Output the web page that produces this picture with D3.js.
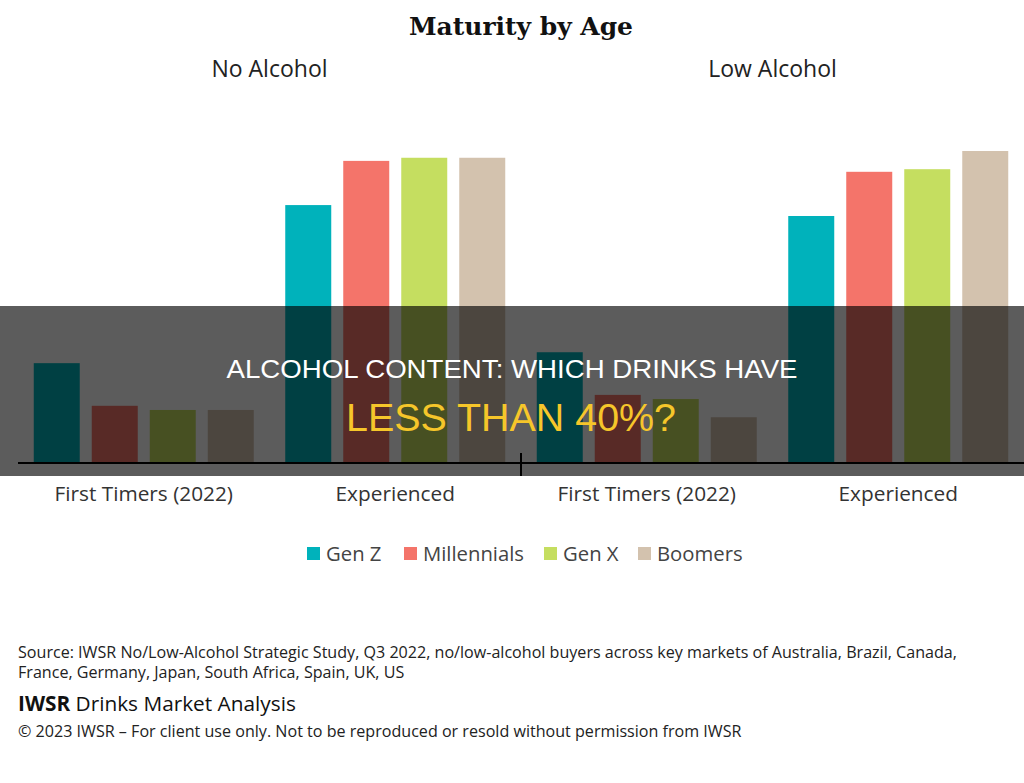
<!DOCTYPE html>
<html>
<head>
<meta charset="utf-8">
<script src="https://cdn.jsdelivr.net/npm/d3@7"></script>
<style>
  html, body { margin: 0; padding: 0; background: #fff; }
  svg { display: block; }
</style>
</head>
<body>
<div class="js-chart"></div>
<script>
let w = 1024;
let h = 783;

// data (no y axis in the source, units are relative)
let panels = ['No Alcohol', 'Low Alcohol'];
let stages = ['First Timers (2022)', 'Experienced'];
let generations = ['Gen Z', 'Millennials', 'Gen X', 'Boomers'];
let noAlcoholValues = [[19.2, 11.0, 10.2, 10.2], [49.6, 58.1, 58.7, 58.7]];
let lowAlcoholValues = [[21.3, 13.1, 12.3, 8.8], [47.5, 56.0, 56.5, 60.0]];
let panelValues = [noAlcoholValues, lowAlcoholValues];

let genColors = ['#00b2bb', '#f4746a', '#c5de60', '#d3c2ae'];
let sansFont = "'Open Sans', 'Noto Sans', sans-serif";

let svg = d3.select('.js-chart').append('svg')
  .attr('width', w)
  .attr('height', h);

let xPanel = d3.scaleBand().domain(panels).range([18, 1024]);
let xStage = d3.scaleBand().domain(stages).range([0, xPanel.bandwidth()]);
let xGen = d3.scaleBand().domain(generations)
  .range([15.75, xStage.bandwidth() - 15.75])
  .paddingInner(0.207);
let y = d3.scaleLinear().domain([0, 60]).range([463, 151]);
let color = d3.scaleOrdinal().domain(generations).range(genColors);

// Title
svg.append('text')
  .attr('x', 521)
  .attr('y', 35)
  .attr('text-anchor', 'middle')
  .style('font-family', "'DejaVu Serif', serif")
  .style('font-weight', 'bold')
  .style('font-size', '25px')
  .attr('textLength', 224)
  .attr('lengthAdjust', 'spacingAndGlyphs')
  .style('fill', '#111')
  .text('Maturity by Age');

panels.forEach((panel, p) => {
  let g = svg.append('g').attr('transform', `translate(${xPanel(panel)},0)`);

  g.append('text')
    .attr('x', xPanel.bandwidth() / 2)
    .attr('y', 77)
    .attr('text-anchor', 'middle')
    .style('font-family', sansFont)
    .style('font-size', '23px')
    .style('fill', '#222')
    .text(panel);

  stages.forEach((stage, s) => {
    let sg = g.append('g').attr('transform', `translate(${xStage(stage)},0)`);

    sg.selectAll('rect')
      .data(panelValues[p][s])
      .enter()
      .append('rect')
      .attr('x', (d, i) => xGen(generations[i]))
      .attr('y', d => y(d))
      .attr('width', xGen.bandwidth())
      .attr('height', d => y(0) - y(d))
      .style('fill', (d, i) => color(generations[i]));
  });

  // category labels under each panel
  let axis = d3.axisBottom(xStage).tickSize(0).tickPadding(0);
  let ag = g.append('g')
    .attr('transform', `translate(0,${y(0)})`)
    .call(axis);
  ag.select('.domain').remove();
  ag.selectAll('text')
    .attr('dy', 0)
    .attr('y', 38)
    .style('font-family', sansFont)
    .style('font-size', '20.8px')
    .style('fill', '#333');
});

// baseline and panel divider tick
svg.append('line')
  .attr('x1', 18)
  .attr('x2', 1024)
  .attr('y1', y(0))
  .attr('y2', y(0))
  .style('stroke', '#000')
  .style('stroke-width', 2);

svg.append('line')
  .attr('x1', xPanel('Low Alcohol'))
  .attr('x2', xPanel('Low Alcohol'))
  .attr('y1', y(0) - 10)
  .attr('y2', y(0) + 13)
  .style('stroke', '#000')
  .style('stroke-width', 2);

// Legend
let legendX = [307, 404, 544, 638];
let legend = svg.append('g');
generations.forEach((gen, i) => {
  legend.append('rect')
    .attr('x', legendX[i])
    .attr('y', 547)
    .attr('width', 13)
    .attr('height', 13)
    .style('fill', color(gen));
  legend.append('text')
    .attr('x', legendX[i] + 19)
    .attr('y', 561)
    .style('font-family', sansFont)
    .style('font-size', '20.3px')
    .style('fill', '#444')
    .text(gen);
});

// Source + footer
let source = [
  'Source: IWSR No/Low-Alcohol Strategic Study, Q3 2022, no/low-alcohol buyers across key markets of Australia, Brazil, Canada,',
  'France, Germany, Japan, South Africa, Spain, UK, US'
];
source.forEach((line, i) => {
  svg.append('text')
    .attr('x', 18)
    .attr('y', 658 + i * 20)
    .style('font-family', sansFont)
    .style('font-size', '16.1px')
    .style('fill', '#222')
    .text(line);
});

let brand = svg.append('text')
  .attr('x', 18)
  .attr('y', 711)
  .style('font-family', sansFont)
  .style('font-size', '20.8px')
  .style('fill', '#111');
brand.append('tspan').style('font-weight', 'bold').text('IWSR');
brand.append('tspan').text(' Drinks Market Analysis');

svg.append('text')
  .attr('x', 18)
  .attr('y', 737)
  .style('font-family', sansFont)
  .style('font-size', '16.1px')
  .style('fill', '#222')
  .text('\u00a9 2023 IWSR \u2013 For client use only. Not to be reproduced or resold without permission from IWSR');

// dark banner laid over the chart
svg.append('rect')
  .attr('x', 0)
  .attr('y', 306)
  .attr('width', w)
  .attr('height', 170)
  .style('fill', '#000')
  .style('fill-opacity', 0.64);

svg.append('text')
  .attr('x', 512)
  .attr('y', 378)
  .attr('text-anchor', 'middle')
  .style('font-family', "'Liberation Sans', Arial, sans-serif")
  .style('font-size', '25px')
  .attr('textLength', 571)
  .attr('lengthAdjust', 'spacingAndGlyphs')
  .style('fill', '#fff')
  .text('ALCOHOL CONTENT: WHICH DRINKS HAVE');

svg.append('text')
  .attr('x', 511)
  .attr('y', 431)
  .attr('text-anchor', 'middle')
  .style('font-family', "'Liberation Sans', Arial, sans-serif")
  .style('font-size', '38px')
  .attr('textLength', 330)
  .attr('lengthAdjust', 'spacingAndGlyphs')
  .style('fill', '#f6c62a')
  .text('LESS THAN 40%?');
</script>
</body>
</html>
